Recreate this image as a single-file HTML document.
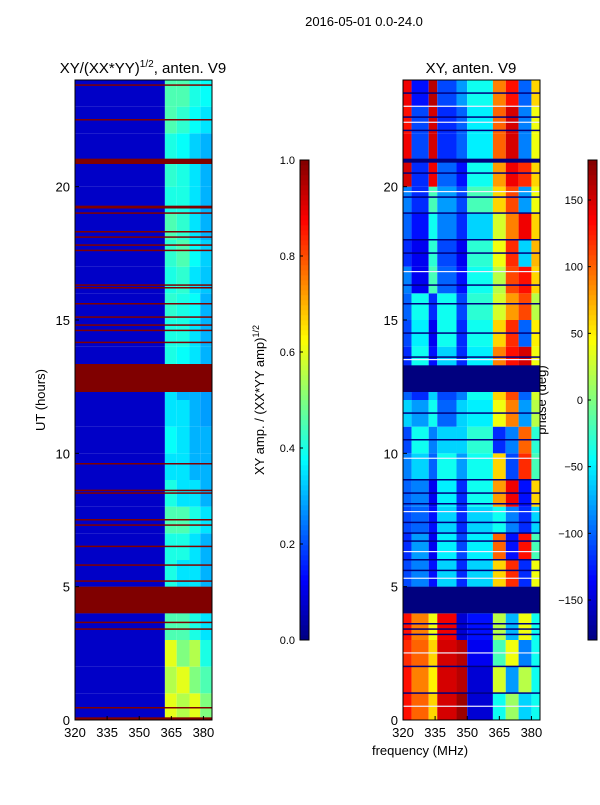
<!DOCTYPE html>
<html><head><meta charset="utf-8"><style>
body{margin:0;background:#fff;font-family:"Liberation Sans",sans-serif;}
svg text{font-family:"Liberation Sans",sans-serif;}
</style></head><body>
<svg id="fig" width="600" height="800" xmlns="http://www.w3.org/2000/svg">
<text x="364" y="26" font-size="13" text-anchor="middle">2016-05-01 0.0-24.0</text>
<text x="143" y="73" font-size="15" text-anchor="middle">XY/(XX*YY)<tspan font-size="10" dy="-6">1/2</tspan><tspan dy="6">, anten. V9</tspan></text>
<text x="471" y="73" font-size="15" text-anchor="middle">XY, anten. V9</text>
<text x="45" y="400" font-size="13" text-anchor="middle" transform="rotate(-90 45 400)">UT (hours)</text>
<text x="420" y="755" font-size="13" text-anchor="middle">frequency (MHz)</text>
<text x="264" y="400" font-size="13" text-anchor="middle" transform="rotate(-90 264 400)">XY amp. / (XX*YY amp)<tspan font-size="9" dy="-5">1/2</tspan></text>
<text x="546" y="400" font-size="13" text-anchor="middle" transform="rotate(-90 546 400)">phase (deg)</text>
<g id="left"></g><g id="right"></g><g id="cbars"></g>
</svg>
<script>
const NS="http://www.w3.org/2000/svg";
const hours=[0,1,2,3,4,5,6,7,8,9,10,11,12,13,14,15,16,17,18,19,20,21,22,23];
const ampBandEdges=[320,362,367.5,373.5,378.5,384];
const ampValues=[
[0.07,0.6,0.55,0.6,0.5],[0.07,0.55,0.6,0.5,0.45],[0.07,0.6,0.5,0.55,0.4],[0.07,0.45,0.45,0.4,0.35],
[0.07,0.3,0.3,0.3,0.3],[0.07,0.4,0.35,0.35,0.3],[0.07,0.4,0.4,0.35,0.3],[0.07,0.45,0.45,0.4,0.35],
[0.07,0.4,0.35,0.35,0.3],[0.07,0.35,0.35,0.3,0.3],[0.07,0.38,0.35,0.3,0.3],[0.07,0.35,0.35,0.3,0.28],
[0.07,0.35,0.3,0.3,0.28],[0.07,0.4,0.38,0.35,0.3],[0.07,0.4,0.4,0.35,0.3],[0.07,0.42,0.4,0.38,0.3],
[0.07,0.4,0.42,0.35,0.32],[0.07,0.42,0.45,0.38,0.33],[0.07,0.45,0.42,0.35,0.3],[0.07,0.4,0.4,0.35,0.3],
[0.07,0.42,0.4,0.35,0.3],[0.07,0.4,0.38,0.33,0.3],[0.07,0.45,0.42,0.38,0.35],[0.07,0.45,0.45,0.4,0.38]];
const phaseBandEdges=[320,324,332,336,345,350,362,368,374,380,384];
const phaseValues=[
[130,100,60,150,170,-150,-40,10,-60,-40],[130,90,50,150,160,-150,30,-80,20,-40],[120,100,60,150,160,-140,-20,40,-90,-40],[130,90,40,140,-150,-130,20,-70,40,-40],
[-110,-90,-130,-60,-120,-60,60,120,-120,40],[-110,-90,-130,-60,-120,-60,60,120,-120,40],[-120,-80,-140,-50,-110,-50,100,-130,130,-20],[-110,-100,-130,-60,-120,-60,-40,-90,-120,-60],
[-100,-90,-140,-50,-120,-40,80,140,-130,60],[-90,-60,-100,-40,-80,-40,60,-110,120,-20],[-110,-40,-90,-60,-60,-30,-120,-90,100,-30],[-60,-80,-40,-100,-60,-50,40,90,-80,20],
[-100,-120,-60,-110,-90,-40,60,110,-100,30],[-120,-40,-130,-60,-120,-50,90,130,150,40],[-110,-50,-140,-40,-120,-40,60,120,-100,50],[-100,-40,-120,-40,-110,-30,30,80,110,20],
[-90,-140,-20,-100,-130,-40,20,110,130,60],[-120,-140,-30,-110,-140,-30,40,120,-60,70],[-100,-130,-40,-90,-120,-60,30,90,140,60],[-90,-120,-20,-80,-110,-20,60,110,-80,40],
[150,-120,140,-100,-130,-40,80,140,120,60],[140,-110,150,-120,-100,-50,100,150,-90,40],[130,-110,150,-120,-100,-50,100,150,-90,40],[140,-130,160,-110,-80,-40,90,130,-100,60]];
const ampMaskedHours=[[0,0.1],[4.0,5.0],[12.3,13.35],[20.85,21.05]];
const ampThinLines=[0.45,3.4,3.65,5.2,5.8,6.5,7.3,7.5,8.5,8.6,9.6,14.15,14.6,14.8,15.1,15.6,16.2,16.3,17.6,17.8,18.1,18.3,19.0,19.2,19.25,22.5,23.8];
const phaseMaskedHours=[[4.0,5.0],[12.3,13.3],[20.9,21.05]];
const phaseThinLines=[1.0,2.0,3.2,3.4,3.6,5.6,6.0,6.7,7.0,7.4,8.1,8.5,9.0,10.5,11.5,13.6,14.5,15.6,16.3,17.5,18.0,19.0,19.6,20.5,22.1,22.6,23.5];
const phaseWhiteLines=[0.5,2.5,5.3,6.3,7.8,9.8,13.5,16.8,19.8,22.4,23.0];
const ampTicks=[0,0.2,0.4,0.6,0.8,1.0];
const phaseTicks=[150,100,50,0,-50,-100,-150];
const hourTicks=[0,5,10,15,20];
const freqTicks=[320,335,350,365,380];

function jet(v){v=Math.max(0,Math.min(1,v));
 const r=Math.max(0,Math.min(1,1.5-Math.abs(4*v-3))),g=Math.max(0,Math.min(1,1.5-Math.abs(4*v-2))),b=Math.max(0,Math.min(1,1.5-Math.abs(4*v-1)));
 return `rgb(${Math.round(r*255)},${Math.round(g*255)},${Math.round(b*255)})`;}
function el(tag,attrs,parent){const e=document.createElementNS(NS,tag);for(const k in attrs)e.setAttribute(k,attrs[k]);parent.appendChild(e);return e;}
const yS=h=>720-h*(640/24);
function panel(gid,x0,vals,edges,norm,masked,thin,maskColor,thinColor,name,white){
 const g=document.getElementById(gid);
 const xS=f=>x0+(f-320)*(137/64);
 hours.forEach((h,i)=>{vals[i].forEach((v,j)=>{
  const r=el('rect',{x:xS(edges[j]),y:yS(h+1),width:xS(edges[j+1])-xS(edges[j]),height:yS(h)-yS(h+1),fill:jet(norm(v))},g);
  
  });});
 masked.forEach(m=>{const r=el('rect',{x:x0,y:yS(m[1]),width:137,height:yS(m[0])-yS(m[1]),fill:maskColor},g);
  
  });
 thin.forEach(h=>{const r=el('rect',{x:x0,y:yS(h)-1,width:137,height:1.5,fill:thinColor},g);
  
  });
 white.forEach(h=>{const r=el('rect',{x:x0,y:yS(h)-1,width:137,height:1.2,fill:'#eef'},g);
  
  });
 const fr=el('rect',{x:x0,y:80,width:137,height:640,fill:'none',stroke:'#000'},g);
 
 
 hourTicks.forEach(h=>{el('line',{x1:x0,x2:x0+4,y1:yS(h),y2:yS(h),stroke:'#000'},g);
  const t=el('text',{x:x0-5,y:yS(h)+5,'font-size':13,'text-anchor':'end'},g);t.textContent=h;
  
  });
 freqTicks.forEach(f=>{el('line',{x1:xS(f),x2:xS(f),y1:720,y2:716,stroke:'#000'},g);
  const t=el('text',{x:xS(f),y:737,'font-size':13,'text-anchor':'middle'},g);t.textContent=f;
  
  });
}
panel('left',75,ampValues,ampBandEdges,v=>v,ampMaskedHours,ampThinLines,'#800000','#800000','amp-heatmap',[]);
panel('right',403,phaseValues,phaseBandEdges,v=>(v+180)/360,phaseMaskedHours,phaseThinLines,'#00007f','#00007f','phase-heatmap',phaseWhiteLines);
const cb=document.getElementById('cbars');
function cbar(x,name,ticks,norm,lx){
 for(let i=0;i<96;i++){const r=el('rect',{x:x,y:640-(i+1)*5,width:9,height:5.3,fill:jet((i+0.5)/96)},cb);
  
  }
 el('rect',{x:x,y:160,width:9,height:480,fill:'none',stroke:'#000'},cb);
 ticks.forEach(t=>{const y=640-norm(t)*480;el('line',{x1:x,x2:x+3,y1:y,y2:y,stroke:'#000'},cb);
  const tx=el('text',{x:lx,y:y+4,'font-size':11,'text-anchor':'end'},cb);
  tx.textContent=(name==='amp-colorbar')?t.toFixed(1):String(t).replace('-','\u2212');
  
  });
}
cbar(300,'amp-colorbar',ampTicks,v=>v,295);
cbar(588,'phase-colorbar',phaseTicks,v=>(v+180)/360,583);
</script>
</body></html>
